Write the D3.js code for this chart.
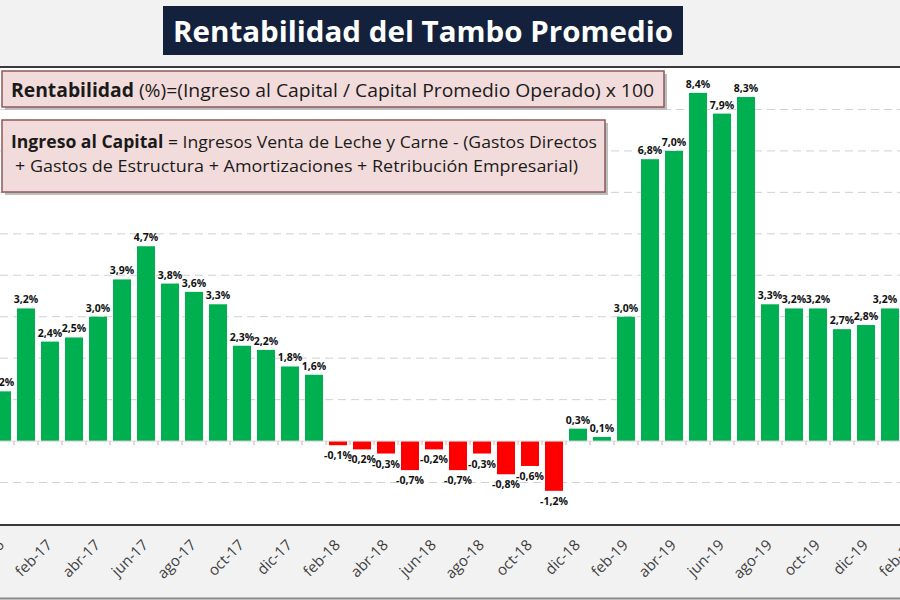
<!DOCTYPE html>
<html><head><meta charset="utf-8">
<script src="https://cdn.jsdelivr.net/npm/d3@7"></script>
<style>body{margin:0;background:#fff;}svg{display:block;}</style>
</head><body>
<svg id="c" width="900" height="600"></svg>
<script>
const months = ["dic-16","ene-17","feb-17","mar-17","abr-17","may-17","jun-17","jul-17","ago-17","sep-17","oct-17","nov-17","dic-17",
"ene-18","feb-18","mar-18","abr-18","may-18","jun-18","jul-18","ago-18","sep-18","oct-18","nov-18","dic-18",
"ene-19","feb-19","mar-19","abr-19","may-19","jun-19","jul-19","ago-19","sep-19","oct-19","nov-19","dic-19","ene-20","feb-20"];
const values = [1.2,3.2,2.4,2.5,3.0,3.9,4.7,3.8,3.6,3.3,2.3,2.2,1.8,
1.6,-0.1,-0.2,-0.3,-0.7,-0.2,-0.7,-0.3,-0.8,-0.6,-1.2,0.3,
0.1,3.0,6.8,7.0,8.4,7.9,8.3,3.3,3.2,3.2,2.7,2.8,3.2,4.3];
const tickLabels = months.filter((m,i)=>i%2===0);
const gridValues = [-1,1,2,3,4,5,6,7,8];
const titleText = "Rentabilidad del Tambo Promedio";

const svg = d3.select("#c");
const font = "'Liberation Sans Narrow','Open Sans',sans-serif";

// top band
svg.append("rect").attr("x",0).attr("y",0).attr("width",900).attr("height",67).attr("fill","#f2f2f2");
svg.append("line").attr("x1",0).attr("x2",900).attr("y1",67).attr("y2",67).attr("stroke","#3a3a3a").attr("stroke-width",2);

// bottom band
svg.append("rect").attr("x",0).attr("y",525).attr("width",900).attr("height",75).attr("fill","#f2f2f2");
svg.append("line").attr("x1",0).attr("x2",900).attr("y1",525).attr("y2",525).attr("stroke","#3a3a3a").attr("stroke-width",2);
svg.append("line").attr("x1",0).attr("x2",900).attr("y1",598.5).attr("y2",598.5).attr("stroke","#8a8a8a").attr("stroke-width",2);

const x = d3.scaleBand().domain(months).range([-10, 926]).paddingInner(0.25).paddingOuter(0.125);
const y = d3.scaleLinear().domain([-2, 9]).range([524, 68]);

// grid
svg.append("g").selectAll("line").data(gridValues).join("line")
  .attr("x1",0).attr("x2",900).attr("y1",d=>y(d)).attr("y2",d=>y(d))
  .attr("stroke","#d0d0d0").attr("stroke-width",1).attr("stroke-dasharray","8,5");

// bars
svg.append("g").selectAll("rect").data(values).join("rect")
  .attr("x",(d,i)=>x(months[i]))
  .attr("width",x.bandwidth())
  .attr("y",d=>y(Math.max(0,d)))
  .attr("height",d=>Math.abs(y(d)-y(0)))
  .attr("fill",d=>d>=0?"#00b050":"#ff0000");

// zero axis
const axisG = svg.append("g").attr("transform",`translate(0,${y(0)})`);
axisG.append("line").attr("x1",0).attr("x2",900).attr("stroke","#d9d9d9").attr("stroke-width",1);
axisG.selectAll("line.t").data(months).join("line").attr("class","t")
  .attr("x1",d=>x(d)-x.step()*0.125).attr("x2",d=>x(d)-x.step()*0.125).attr("y1",0).attr("y2",4)
  .attr("stroke","#d9b0b0").attr("stroke-width",1);

// value labels
svg.append("g").selectAll("text").data(values).join("text")
  .attr("x",(d,i)=>{const c=x(months[i])+x.bandwidth()/2; return (c<900 && c>886) ? 885 : c;})
  .attr("y",d=>d>=0?y(d)-5:y(d)+14)
  .attr("text-anchor","middle")
  .attr("font-family","'Open Sans',sans-serif").attr("font-weight","bold").attr("font-size",10.5)
  .attr("fill","#111")
  .text(d=>d3.format(".1f")(d).replace("−","-").replace(".",",")+"%");

// x tick labels
svg.append("g").selectAll("text").data(tickLabels).join("text")
  .attr("transform",d=>`translate(${x(d)+x.bandwidth()/2+3},546) rotate(-45)`)
  .attr("text-anchor","end")
  .attr("font-family",font).attr("font-size",15).attr("fill","#404040")
  .text(d=>d);

// title
svg.append("rect").attr("x",163).attr("y",6).attr("width",520).attr("height",49).attr("fill","#14213d");
svg.append("text").attr("x",423).attr("y",42).attr("text-anchor","middle")
  .attr("font-family","'Open Sans',sans-serif").attr("font-weight","bold").attr("font-size",29)
  .attr("fill","#fff").attr("textLength",500).attr("lengthAdjust","spacingAndGlyphs").text(titleText);

// formula boxes
function box(x0,y0,w,h){
  svg.append("rect").attr("x",x0+3).attr("y",y0+3).attr("width",w).attr("height",h).attr("fill","#bdbdbd");
  svg.append("rect").attr("x",x0).attr("y",y0).attr("width",w).attr("height",h).attr("fill","#f2dcdb")
    .attr("stroke","#8c5a5a").attr("stroke-width",1.5);
}
box(2,71,662,36);
const t1 = svg.append("text").attr("x",11).attr("y",97).attr("font-family",font).attr("font-size",19).attr("fill","#1a1a1a")
  .attr("textLength",643).attr("lengthAdjust","spacingAndGlyphs");
t1.append("tspan").attr("font-weight","bold").text("Rentabilidad");
t1.append("tspan").text(" (%)=(Ingreso al Capital / Capital Promedio Operado) x 100");

box(2,120,603,72);
const t2 = svg.append("text").attr("x",11).attr("y",148).attr("font-family",font).attr("font-size",17).attr("fill","#1a1a1a")
  .attr("textLength",586).attr("lengthAdjust","spacingAndGlyphs");
t2.append("tspan").attr("font-weight","bold").text("Ingreso al Capital");
t2.append("tspan").text(" = Ingresos Venta de Leche y Carne -  (Gastos Directos");
svg.append("text").attr("x",15).attr("y",172).attr("font-family",font).attr("font-size",17).attr("fill","#1a1a1a")
  .attr("textLength",563).attr("lengthAdjust","spacingAndGlyphs")
  .text("+ Gastos de Estructura  + Amortizaciones  +  Retribución Empresarial)");
</script>
</body></html>
